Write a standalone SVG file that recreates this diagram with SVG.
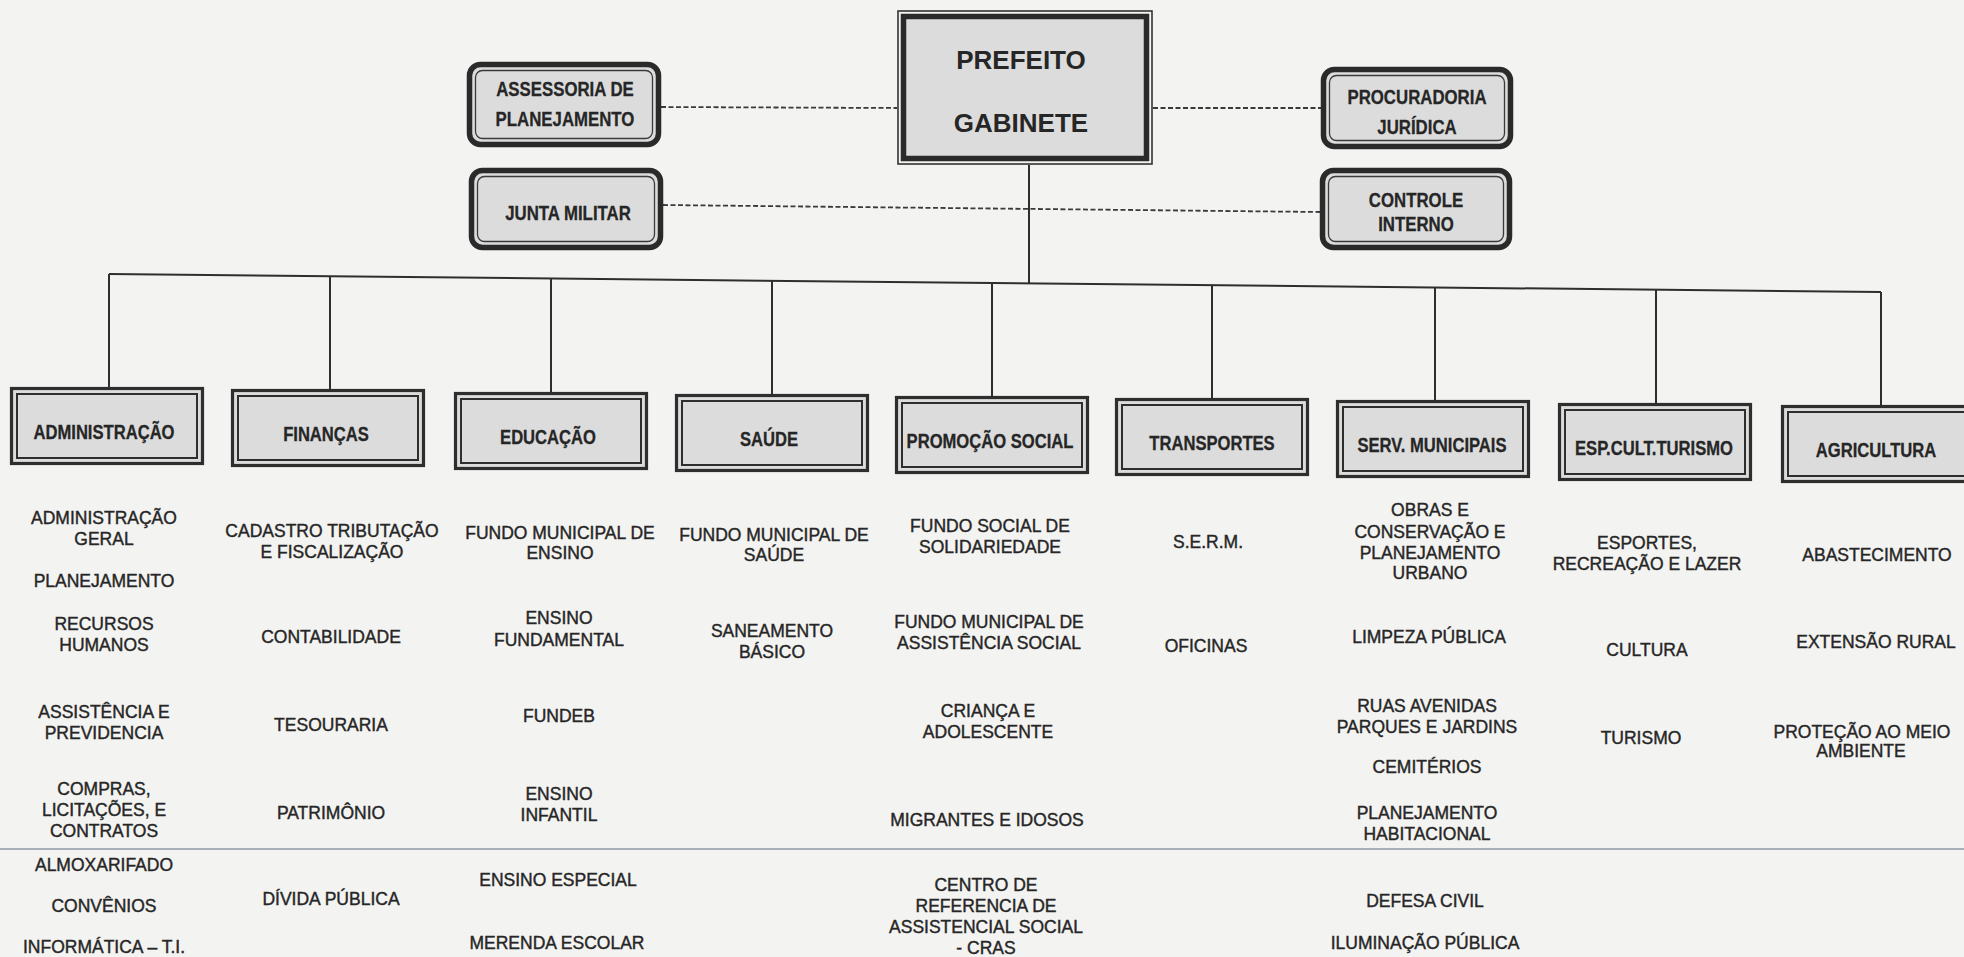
<svg xmlns="http://www.w3.org/2000/svg" width="1964" height="957" viewBox="0 0 1964 957">
<defs>
<style>
.bg{fill:#f3f3f1}
.ln{stroke:#2e2e2e;stroke-width:2;fill:none}
.dash{stroke:#3a3a3a;stroke-width:1.8;fill:none;stroke-dasharray:5 2.5}
.dout{fill:#dcdcdc;stroke:#2e2e2e;stroke-width:3.2}
.din{fill:none;stroke:#2e2e2e;stroke-width:2}
.rout{fill:#dcdcdc;stroke:#2a2a2a;stroke-width:5.5}
.rin{fill:none;stroke:#3a3a3a;stroke-width:1.3}
.pthin{fill:none;stroke:#333;stroke-width:1.6}
.pthick{fill:#dcdcdc;stroke:#2a2a2a;stroke-width:5.5}
.lbl{font-family:"Liberation Sans",Arial,sans-serif;font-weight:bold;font-size:20.5px;fill:#262626;stroke:#262626;stroke-width:0.3;text-anchor:middle}
.big{font-family:"Liberation Sans",Arial,sans-serif;font-weight:bold;font-size:25px;fill:#262626;text-anchor:middle}
.sub{font-family:"Liberation Sans",Arial,sans-serif;font-size:17.5px;fill:#262626;stroke:#262626;stroke-width:0.4;text-anchor:middle}
.scan{stroke:#8e97a4;stroke-width:1.6}
</style>
</defs>
<rect class="bg" x="0" y="0" width="1964" height="957"/>
<line class="scan" x1="0" y1="849" x2="1964" y2="849"/>

<g id="connectors">
<line class="dash" x1="661" y1="107" x2="897" y2="108"/>
<line class="dash" x1="1153" y1="108" x2="1321" y2="108"/>
<line class="dash" x1="663" y1="205" x2="1320" y2="212"/>
<line class="ln" x1="1029" y1="165" x2="1029" y2="283"/>
<line class="ln" x1="109" y1="274" x2="1881" y2="292"/>
<line class="ln" x1="109" y1="274" x2="109" y2="387"/>
<line class="ln" x1="330" y1="276" x2="330" y2="389"/>
<line class="ln" x1="551" y1="278.5" x2="551" y2="392"/>
<line class="ln" x1="772" y1="280.7" x2="772" y2="394"/>
<line class="ln" x1="992" y1="283" x2="992" y2="396"/>
<line class="ln" x1="1212" y1="285" x2="1212" y2="398"/>
<line class="ln" x1="1435" y1="287.5" x2="1435" y2="400"/>
<line class="ln" x1="1656" y1="289.5" x2="1656" y2="403"/>
<line class="ln" x1="1881" y1="292" x2="1881" y2="405"/>
</g>

<g id="prefeito">
<rect class="pthin" x="898" y="11" width="254" height="153"/>
<rect class="pthick" x="903.5" y="16.5" width="243" height="142"/>
<text class="big" transform="translate(1021,69) scale(1.04,1)">PREFEITO</text>
<text class="big" transform="translate(1021,132) scale(1.04,1)">GABINETE</text>
</g>

<g id="assessoria">
<rect class="rout" x="469.5" y="64.5" width="189" height="80" rx="11"/>
<rect class="rin" x="475.5" y="70.5" width="177" height="68" rx="7"/>
<text class="lbl" transform="translate(565,96) scale(0.82,1)">ASSESSORIA  DE</text>
<text class="lbl" transform="translate(565,126) scale(0.82,1)">PLANEJAMENTO</text>
</g>

<g id="junta-militar">
<rect class="rout" x="471.5" y="170.5" width="189" height="77" rx="11"/>
<rect class="rin" x="477.5" y="176.5" width="177" height="65" rx="7"/>
<text class="lbl" transform="translate(568,220) scale(0.82,1)">JUNTA MILITAR</text>
</g>

<g id="procuradoria">
<rect class="rout" x="1323.5" y="69.5" width="187" height="77" rx="11"/>
<rect class="rin" x="1329.5" y="75.5" width="175" height="65" rx="7"/>
<text class="lbl" transform="translate(1417,104) scale(0.82,1)">PROCURADORIA</text>
<text class="lbl" transform="translate(1417,134) scale(0.82,1)">JURÍDICA</text>
</g>

<g id="controle-interno">
<rect class="rout" x="1322.5" y="170.5" width="187" height="77" rx="11"/>
<rect class="rin" x="1328.5" y="176.5" width="175" height="65" rx="7"/>
<text class="lbl" transform="translate(1416,207) scale(0.82,1)">CONTROLE</text>
<text class="lbl" transform="translate(1416,231) scale(0.82,1)">INTERNO</text>
</g>

<g id="administracao">
<rect class="dout" x="11.5" y="388.5" width="191" height="75"/>
<rect class="din" x="17" y="394" width="180" height="64"/>
<text class="lbl" transform="translate(104,439) scale(0.81,1)">ADMINISTRAÇÃO</text>
</g>
<g id="financas">
<rect class="dout" x="232.5" y="390.5" width="191" height="75"/>
<rect class="din" x="238" y="396" width="180" height="64"/>
<text class="lbl" transform="translate(326,441) scale(0.81,1)">FINANÇAS</text>
</g>
<g id="educacao">
<rect class="dout" x="455.5" y="393.5" width="191" height="75"/>
<rect class="din" x="461" y="399" width="180" height="64"/>
<text class="lbl" transform="translate(548,444) scale(0.81,1)">EDUCAÇÃO</text>
</g>
<g id="saude">
<rect class="dout" x="676.5" y="395.5" width="191" height="75"/>
<rect class="din" x="682" y="401" width="180" height="64"/>
<text class="lbl" transform="translate(769,446) scale(0.81,1)">SAÚDE</text>
</g>
<g id="promocao-social">
<rect class="dout" x="896.5" y="397.5" width="191" height="75"/>
<rect class="din" x="902" y="403" width="180" height="64"/>
<text class="lbl" transform="translate(990,448) scale(0.81,1)">PROMOÇÃO  SOCIAL</text>
</g>
<g id="transportes">
<rect class="dout" x="1116.5" y="399.5" width="191" height="75"/>
<rect class="din" x="1122" y="405" width="180" height="64"/>
<text class="lbl" transform="translate(1212,450) scale(0.81,1)">TRANSPORTES</text>
</g>
<g id="serv-municipais">
<rect class="dout" x="1337.5" y="401.5" width="191" height="75"/>
<rect class="din" x="1343" y="407" width="180" height="64"/>
<text class="lbl" transform="translate(1432,452) scale(0.81,1)">SERV. MUNICIPAIS</text>
</g>
<g id="esp-cult-turismo">
<rect class="dout" x="1559.5" y="404.5" width="191" height="75"/>
<rect class="din" x="1565" y="410" width="180" height="64"/>
<text class="lbl" transform="translate(1654,455) scale(0.81,1)">ESP.CULT.TURISMO</text>
</g>
<g id="agricultura">
<rect class="dout" x="1782.5" y="406.5" width="191" height="75"/>
<rect class="din" x="1788" y="412" width="180" height="64"/>
<text class="lbl" transform="translate(1876,457) scale(0.81,1)">AGRICULTURA</text>
</g>

<g id="sub-administracao">
<text class="sub" x="104" y="524">ADMINISTRAÇÃO</text>
<text class="sub" x="104" y="545">GERAL</text>
<text class="sub" x="104" y="587">PLANEJAMENTO</text>
<text class="sub" x="104" y="630">RECURSOS</text>
<text class="sub" x="104" y="651">HUMANOS</text>
<text class="sub" x="104" y="718">ASSISTÊNCIA E</text>
<text class="sub" x="104" y="739">PREVIDENCIA</text>
<text class="sub" x="104" y="795">COMPRAS,</text>
<text class="sub" x="104" y="816">LICITAÇÕES, E</text>
<text class="sub" x="104" y="837">CONTRATOS</text>
<text class="sub" x="104" y="871">ALMOXARIFADO</text>
<text class="sub" x="104" y="912">CONVÊNIOS</text>
<text class="sub" x="104" y="953">INFORMÁTICA – T.I.</text>
</g>
<g id="sub-financas">
<text class="sub" x="332" y="537">CADASTRO TRIBUTAÇÃO</text>
<text class="sub" x="332" y="558">E FISCALIZAÇÃO</text>
<text class="sub" x="331" y="643">CONTABILIDADE</text>
<text class="sub" x="331" y="731">TESOURARIA</text>
<text class="sub" x="331" y="819">PATRIMÔNIO</text>
<text class="sub" x="331" y="905">DÍVIDA PÚBLICA</text>
</g>
<g id="sub-educacao">
<text class="sub" x="560" y="539">FUNDO MUNICIPAL DE</text>
<text class="sub" x="560" y="559">ENSINO</text>
<text class="sub" x="559" y="624">ENSINO</text>
<text class="sub" x="559" y="646">FUNDAMENTAL</text>
<text class="sub" x="559" y="722">FUNDEB</text>
<text class="sub" x="559" y="800">ENSINO</text>
<text class="sub" x="559" y="821">INFANTIL</text>
<text class="sub" x="558" y="886">ENSINO ESPECIAL</text>
<text class="sub" x="557" y="949">MERENDA ESCOLAR</text>
</g>
<g id="sub-saude">
<text class="sub" x="774" y="541">FUNDO MUNICIPAL DE</text>
<text class="sub" x="774" y="561">SAÚDE</text>
<text class="sub" x="772" y="637">SANEAMENTO</text>
<text class="sub" x="772" y="658">BÁSICO</text>
</g>
<g id="sub-promocao-social">
<text class="sub" x="990" y="532">FUNDO SOCIAL DE</text>
<text class="sub" x="990" y="553">SOLIDARIEDADE</text>
<text class="sub" x="989" y="628">FUNDO MUNICIPAL DE</text>
<text class="sub" x="989" y="649">ASSISTÊNCIA SOCIAL</text>
<text class="sub" x="988" y="717">CRIANÇA E</text>
<text class="sub" x="988" y="738">ADOLESCENTE</text>
<text class="sub" x="987" y="826">MIGRANTES E IDOSOS</text>
<text class="sub" x="986" y="891">CENTRO DE</text>
<text class="sub" x="986" y="912">REFERENCIA DE</text>
<text class="sub" x="986" y="933">ASSISTENCIAL SOCIAL</text>
<text class="sub" x="986" y="954">- CRAS</text>
</g>
<g id="sub-transportes">
<text class="sub" x="1208" y="548">S.E.R.M.</text>
<text class="sub" x="1206" y="652">OFICINAS</text>
</g>
<g id="sub-serv-municipais">
<text class="sub" x="1430" y="516">OBRAS E</text>
<text class="sub" x="1430" y="538">CONSERVAÇÃO E</text>
<text class="sub" x="1430" y="559">PLANEJAMENTO</text>
<text class="sub" x="1430" y="579">URBANO</text>
<text class="sub" x="1429" y="643">LIMPEZA PÚBLICA</text>
<text class="sub" x="1427" y="712">RUAS AVENIDAS</text>
<text class="sub" x="1427" y="733">PARQUES E JARDINS</text>
<text class="sub" x="1427" y="773">CEMITÉRIOS</text>
<text class="sub" x="1427" y="819">PLANEJAMENTO</text>
<text class="sub" x="1427" y="840">HABITACIONAL</text>
<text class="sub" x="1425" y="907">DEFESA CIVIL</text>
<text class="sub" x="1425" y="949">ILUMINAÇÃO PÚBLICA</text>
</g>
<g id="sub-esp-cult-turismo">
<text class="sub" x="1647" y="549">ESPORTES,</text>
<text class="sub" x="1647" y="570">RECREAÇÃO E LAZER</text>
<text class="sub" x="1647" y="656">CULTURA</text>
<text class="sub" x="1641" y="744">TURISMO</text>
</g>
<g id="sub-agricultura">
<text class="sub" x="1877" y="561">ABASTECIMENTO</text>
<text class="sub" x="1876" y="648">EXTENSÃO RURAL</text>
<text class="sub" x="1862" y="738">PROTEÇÃO AO MEIO</text>
<text class="sub" x="1861" y="757">AMBIENTE</text>
</g>
</svg>
